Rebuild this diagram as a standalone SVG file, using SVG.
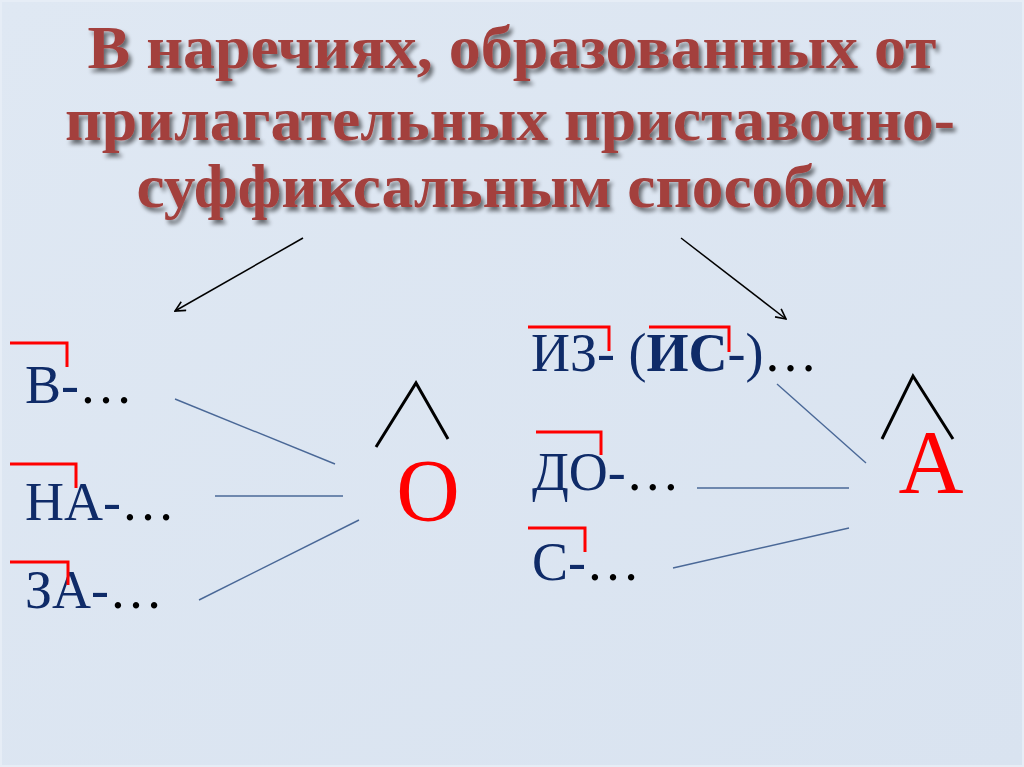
<svg xmlns="http://www.w3.org/2000/svg" width="1024" height="767" viewBox="0 0 1024 767">
  <defs>
    <linearGradient id="bg" x1="0" y1="0" x2="1" y2="1">
      <stop offset="0" stop-color="#dfe8f3"/>
      <stop offset="1" stop-color="#d9e3f0"/>
    </linearGradient>
    <filter id="shadow" x="-5%" y="-20%" width="110%" height="150%">
      <feGaussianBlur in="SourceAlpha" stdDeviation="2.2"/>
      <feOffset dx="3" dy="4" result="b"/>
      <feComponentTransfer><feFuncA type="linear" slope="0.55"/></feComponentTransfer>
      <feMerge><feMergeNode/><feMergeNode in="SourceGraphic"/></feMerge>
    </filter>
    <marker id="arrow" viewBox="0 0 12 12" refX="11" refY="6" markerWidth="12" markerHeight="12" markerUnits="userSpaceOnUse" orient="auto">
      <path d="M1,1 L11,6 L1,11" fill="none" stroke="#000" stroke-width="1.6"/>
    </marker>
    <style>
      .title { font-family: "Liberation Serif", "DejaVu Serif", serif; font-weight: bold; font-size: 62px; fill: #a3403e; text-anchor: middle; }
      .pre { font-family: "Liberation Serif", "DejaVu Serif", serif; font-size: 54px; fill: #0f2b68; }
      .dots { fill: #000; }
      .vowel { font-family: "Liberation Serif", "DejaVu Serif", serif; fill: #ff0000; text-anchor: middle; }
      .mark { fill: none; stroke: #ff0000; stroke-width: 3; }
      .caret { fill: none; stroke: #000; stroke-width: 3; }
      .conn { stroke: #4a6897; stroke-width: 1.4; fill: none; }
      .arr { stroke: #000; stroke-width: 1.5; fill: none; marker-end: url(#arrow); }
    </style>
  </defs>

  <rect x="0" y="0" width="1024" height="767" fill="url(#bg)"/>
  <rect x="1" y="1" width="1022" height="765" fill="none" stroke="#e6edf6" stroke-width="2"/>

  <g id="title" filter="url(#shadow)">
    <text class="title" x="512" y="68" textLength="849" lengthAdjust="spacingAndGlyphs">В наречиях, образованных от</text>
    <text class="title" x="510" y="140" textLength="890" lengthAdjust="spacingAndGlyphs">прилагательных приставочно-</text>
    <text class="title" x="512" y="207" textLength="751" lengthAdjust="spacingAndGlyphs">суффиксальным способом</text>
  </g>

  <g id="connectors">
    <line class="arr" x1="303" y1="238" x2="175" y2="311"/>
    <line class="arr" x1="681" y1="238" x2="786" y2="319"/>
    <line class="conn" x1="175" y1="399" x2="335" y2="464"/>
    <line class="conn" x1="215" y1="496" x2="343" y2="496"/>
    <line class="conn" x1="199" y1="600" x2="359" y2="520"/>
    <line class="conn" x1="777" y1="384" x2="866" y2="463"/>
    <line class="conn" x1="697" y1="488" x2="849" y2="488"/>
    <line class="conn" x1="673" y1="568" x2="849" y2="528"/>
  </g>

  <g id="prefix-v">
    <text class="pre" x="25" y="403">В-<tspan class="dots">…</tspan></text>
    <path class="mark" d="M10,343 H67 V367"/>
  </g>
  <g id="prefix-na">
    <text class="pre" x="25" y="520">НА-<tspan class="dots">…</tspan></text>
    <path class="mark" d="M10,464 H76 V488"/>
  </g>
  <g id="prefix-za">
    <text class="pre" x="25" y="608">ЗА-<tspan class="dots">…</tspan></text>
    <path class="mark" d="M10,562 H68 V585"/>
  </g>

  <g id="suffix-o">
    <path class="caret" d="M376,447 L416,383 L448,439"/>
    <text class="vowel" x="428" y="520" font-size="88">О</text>
  </g>

  <g id="prefix-iz">
    <text class="pre" x="531" y="371">ИЗ- (<tspan font-weight="bold">ИС</tspan>-)<tspan class="dots">…</tspan></text>
    <path class="mark" d="M528,327 H609 V351"/>
    <path class="mark" d="M649,327 H729 V352"/>
  </g>
  <g id="prefix-do">
    <text class="pre" x="532" y="490">ДО-<tspan class="dots">…</tspan></text>
    <path class="mark" d="M536,432 H601 V455"/>
  </g>
  <g id="prefix-s">
    <text class="pre" x="532" y="580">С-<tspan class="dots">…</tspan></text>
    <path class="mark" d="M528,528 H585 V552"/>
  </g>

  <g id="suffix-a">
    <path class="caret" d="M882,439 L913,376 L953,439"/>
    <text class="vowel" x="931" y="493" font-size="90">А</text>
  </g>
</svg>
